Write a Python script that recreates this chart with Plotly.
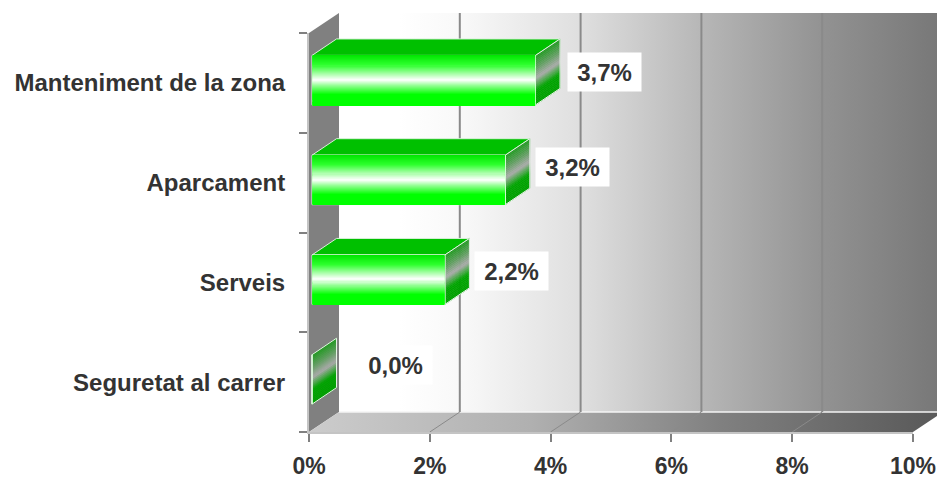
import plotly.graph_objects as go

categories = ["Seguretat al carrer", "Serveis", "Aparcament", "Manteniment de la zona"]
values = [0.0, 2.2, 3.2, 3.7]
value_labels = ["0,0%", "2,2%", "3,2%", "3,7%"]
x_ticks = [0, 2, 4, 6, 8, 10]
x_tick_labels = ["0%", "2%", "4%", "6%", "8%", "10%"]

# style / layout constants
W, H = 937, 480
X_PX0, X_PX_UNIT = 309.0, 60.4
Y_PX0, Y_PX_UNIT = 432.0, 99.75
XMAX, YMAX = 10, 3.5
WALL_DX, WALL_DY = 30 / X_PX_UNIT, 20 / Y_PX_UNIT
BAR_DX, BAR_DY = 24.5 / X_PX_UNIT, 16.5 / Y_PX_UNIT
BAR_BASE = 0.05
BAR_SHIFT = 0.027
BAR_HALF = 0.248
label_dx = [86, 70, 70, 72]
label_dy = [-17, -11, -15.5, -11]
FONT = "Liberation Sans, Arial, sans-serif"
TEXT = "#333333"
FS = 24


def hex2(c):
    return tuple(int(c[i:i + 2], 16) for i in (1, 3, 5))


def ramp(stops, t):
    for (a, ca), (b, cb) in zip(stops, stops[1:]):
        if t <= b:
            f = (t - a) / (b - a) if b > a else 0
            r = [round(p + (q - p) * f) for p, q in zip(hex2(ca), hex2(cb))]
            return f"rgb({r[0]},{r[1]},{r[2]})"
    return stops[-1][1]


front_stops = [(0, "#00e600"), (0.2, "#2dff2d"), (0.36, "#a0ffa0"), (0.5, "#ffffff"),
               (0.62, "#90ff90"), (0.8, "#00ff00"), (1, "#00ff00")]
side_stops = [(0, "#1f9a1f"), (0.25, "#5f9f5f"), (0.47, "#aaaaaa"), (0.72, "#00a400"), (1, "#00a000")]

x_left = -X_PX0 / X_PX_UNIT
x_right = (W - X_PX0) / X_PX_UNIT
y_bot = -0.5 - (H - Y_PX0) / Y_PX_UNIT
y_top = -0.5 + Y_PX0 / Y_PX_UNIT

fig = go.Figure()


def poly(xs, ys, **kw):
    fig.add_trace(go.Scatter(x=xs + xs[:1], y=ys + ys[:1], fill="toself", hoverinfo="skip",
                             xaxis="x", yaxis="y", **kw))


b0, b1 = -0.5, YMAX
# back wall
poly([WALL_DX, x_right, x_right, WALL_DX],
     [b0 + WALL_DY, b0 + WALL_DY, b1 + WALL_DY, b1 + WALL_DY],
     mode="none",
     fillgradient=dict(type="horizontal", colorscale=[
         [0, "#ffffff"], [0.1, "#ffffff"], [0.21, "#f8f8f8"], [0.41, "#dedede"],
         [0.61, "#b6b6b6"], [0.81, "#929292"], [1, "#787878"]]))
# side wall
poly([0, WALL_DX, WALL_DX, 0], [b0, b0 + WALL_DY, b1 + WALL_DY, b1], mode="none", fillcolor="#808080")
# floor
poly([0, XMAX, XMAX + WALL_DX, WALL_DX], [b0, b0, b0 + WALL_DY, b0 + WALL_DY], mode="none",
     fillgradient=dict(type="horizontal", colorscale=[
         [0, "#cccccc"], [0.35, "#b0b0b0"], [0.65, "#808080"], [1, "#585858"]]))
# wall / floor edges
fig.add_trace(go.Scatter(x=[WALL_DX, x_right], y=[b0 + WALL_DY] * 2, mode="lines", hoverinfo="skip",
                         line=dict(color="#f4f4f4", width=1.5), xaxis="x", yaxis="y"))
# grid lines on wall and floor
for t in x_ticks[1:-1]:
    fig.add_trace(go.Scatter(x=[t, t + WALL_DX], y=[b0, b0 + WALL_DY],
                             mode="lines", hoverinfo="skip", line=dict(color="#8a8a8a", width=1),
                             xaxis="x", yaxis="y"))
    fig.add_trace(go.Scatter(x=[t + WALL_DX] * 2, y=[b0 + WALL_DY, b1 + WALL_DY],
                             mode="lines", hoverinfo="skip", line=dict(color="#8a8a8a", width=2),
                             xaxis="x", yaxis="y"))

# bar 3-D faces
N_SIDE = 26
for i, v in enumerate(values):
    xr = v + BAR_BASE
    ft, fb = i + BAR_SHIFT + BAR_HALF, i + BAR_SHIFT - BAR_HALF
    if v > 0:
        poly([BAR_BASE, xr, xr + BAR_DX, BAR_BASE + BAR_DX], [ft, ft, ft + BAR_DY, ft + BAR_DY],
             mode="lines", fillcolor="#00c000", line=dict(color="#d8f0d8", width=1))
    for k in range(N_SIDE):
        t0, t1 = k / N_SIDE, (k + 1) / N_SIDE
        col = ramp(side_stops, (t0 + t1) / 2)
        y0 = ft + (fb - ft) * t0
        y1 = ft + (fb - ft) * t1
        poly([xr, xr + BAR_DX, xr + BAR_DX, xr], [y0, y0 + BAR_DY, y1 + BAR_DY, y1],
             mode="lines", fillcolor=col, line=dict(color=col, width=0.6))
    fig.add_trace(go.Scatter(x=[xr, xr + BAR_DX, xr + BAR_DX, xr, xr],
                             y=[ft, ft + BAR_DY, fb + BAR_DY, fb, ft], mode="lines", hoverinfo="skip",
                             line=dict(color="#e8f4e8", width=1), xaxis="x", yaxis="y"))

# front faces: native bars, shaded with thin slices
fig.add_trace(go.Bar(y=categories, x=values, base=BAR_BASE, orientation="h", width=2 * BAR_HALF,
                     offset=BAR_SHIFT - BAR_HALF, marker=dict(color="#00ff00", line=dict(color="#e0ffe0", width=1)),
                     hoverinfo="skip", xaxis="x2", yaxis="y2"))
N_BAND = 48
h = 2 * BAR_HALF / N_BAND
for k in range(N_BAND):
    fig.add_trace(go.Bar(y=categories, x=[max(v - 0.012, 0) for v in values], base=BAR_BASE + 0.006, orientation="h",
                         width=h * 1.2, offset=BAR_SHIFT + BAR_HALF - (k + 1.2) * h,
                         marker=dict(color=ramp(front_stops, (k + 0.5) / N_BAND), line=dict(width=0)),
                         hoverinfo="skip", xaxis="x2", yaxis="y2"))

annotations = [
    dict(x=v, y=c, xref="x2", yref="y2", text=f"<b>{t}</b>", showarrow=False,
         xshift=dx, yshift=-dy, width=71, height=36, bgcolor="#ffffff", align="center", valign="middle",
         font=dict(family=FONT, size=FS, color=TEXT))
    for v, c, t, dx, dy in zip(values, categories, value_labels, label_dx, label_dy)
]

fig.update_layout(
    width=W, height=H, margin=dict(l=0, r=0, t=0, b=0), paper_bgcolor="#ffffff",
    plot_bgcolor="rgba(0,0,0,0)", showlegend=False, barmode="overlay", hovermode=False,
    annotations=annotations,
    font=dict(family=FONT, size=FS, color=TEXT),
    xaxis=dict(domain=[0, 1], range=[x_left, x_right], visible=False, fixedrange=True, automargin=False),
    yaxis=dict(domain=[0, 1], range=[y_bot, y_top], visible=False, fixedrange=True, automargin=False),
    xaxis2=dict(domain=[X_PX0 / W, (X_PX0 + XMAX * X_PX_UNIT) / W], range=[0, XMAX], anchor="y2", automargin=False,
                tickvals=x_ticks, ticktext=[f"<b>{t}</b>" for t in x_tick_labels], ticks="outside", ticklen=8,
                tickwidth=2, tickcolor="#808080", showline=True, linecolor="#c4c4c4", linewidth=2,
                tickfont=dict(family=FONT, size=23, color=TEXT),
                showgrid=False, zeroline=False, ticklabelstandoff=4, ticklabeloverflow="allow", fixedrange=True),
    yaxis2=dict(domain=[(H - Y_PX0) / H, (H - Y_PX0 + (YMAX + 0.5) * Y_PX_UNIT) / H], range=[-0.5, YMAX], anchor="x2",
                automargin=False,
                type="category", categoryorder="array", categoryarray=categories, tickmode="array",
                tickvals=categories, ticktext=[f"<b>{c}</b>" for c in categories], tickson="boundaries",
                ticks="outside", ticklen=8, tickwidth=2, tickcolor="#808080", showline=True, linecolor="#c4c4c4",
                linewidth=2, showgrid=False, zeroline=False, ticklabelstandoff=17, fixedrange=True),
)

fig.write_html("out.html", config={"displayModeBar": False}, post_script="document.body.style.margin='0';")
